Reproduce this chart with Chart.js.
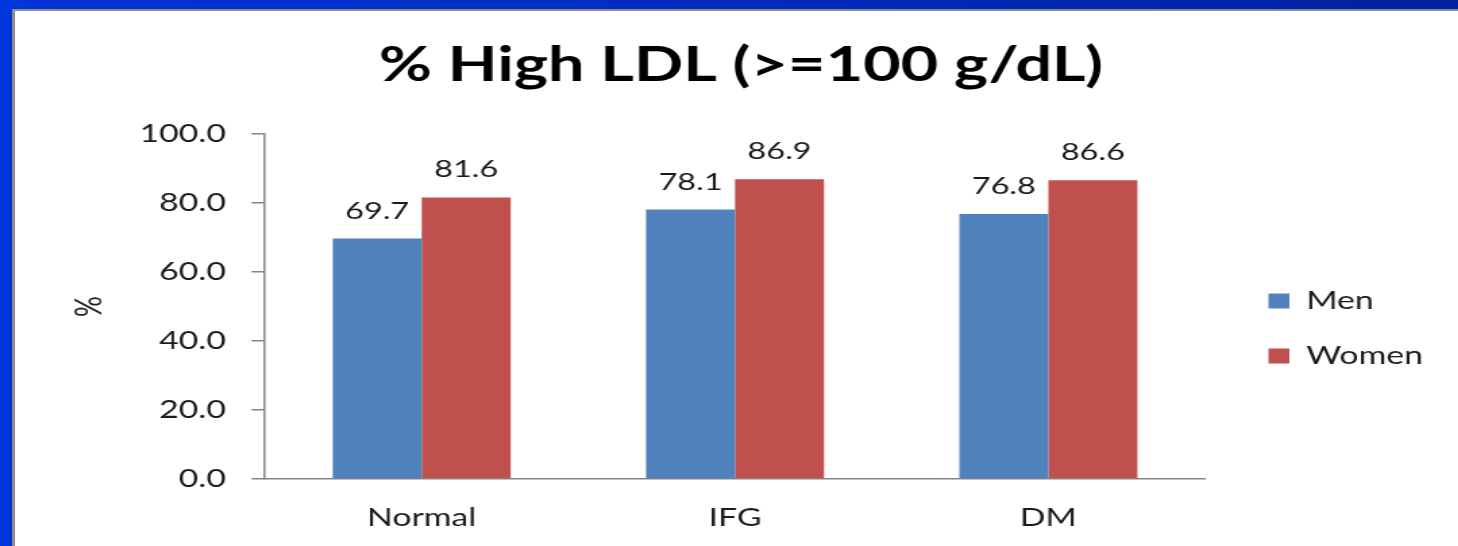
<!DOCTYPE html>
<html>
<head>
<meta charset="utf-8">
<script src="https://cdn.jsdelivr.net/npm/chart.js@4"></script>
<style>
  html { margin: 0; padding: 0; background: #fff; overflow: hidden; }
  body {
    margin: 0; padding: 0;
    width: 100%; min-width: 1458px; height: 546px; overflow: hidden; position: relative;
    background: linear-gradient(90deg, #0035da, #0021a2);
  }
  #panel {
    position: absolute; left: 12px; top: 9px; right: -20px; bottom: -20px;
    background: #fff;
    border-left: 3px solid #8c8c8c;
    border-top: 2px solid #8c8c8c;
  }
  /* the source slide is stretched sideways, so the chart is too */
  #wrap {
    position: absolute; left: 0; top: 0;
    width: 1069px; height: 535px;
    transform: scaleX(1.35); transform-origin: 0 0;
  }
</style>
</head>
<body>
<div id="panel"><div id="wrap"><canvas id="chart"></canvas></div></div>
<script>
  var CATEGORIES = ['Normal', 'IFG', 'DM'];
  var MEN = [69.7, 78.1, 76.8];
  var WOMEN = [81.6, 86.9, 86.6];
  var Y_TICKS = [0, 20, 40, 60, 80, 100];

  var FONT = 'Lato, "Open Sans", sans-serif';
  var TEXT = '#1a1a1a';
  var AXIS = '#868686';

  // canvas-space layout targets (before the 1.35 horizontal stretch)
  var PLOT_LEFT = 185.2;
  var PLOT_RIGHT = 881.5;
  var PAD_LEFT = 6.6;
  var LEGEND_SHIFT_X = 17;
  var LEGEND_SHIFT_Y = 50;

  // value labels above each bar
  var barValueLabels = {
    id: 'barValueLabels',
    afterDatasetsDraw: function (chart) {
      var ctx = chart.ctx;
      ctx.save();
      ctx.font = '24px ' + FONT;
      ctx.fillStyle = TEXT;
      ctx.textAlign = 'center';
      ctx.textBaseline = 'alphabetic';
      chart.data.datasets.forEach(function (ds, i) {
        chart.getDatasetMeta(i).data.forEach(function (bar, j) {
          ctx.fillText(ds.data[j].toFixed(1), bar.x, bar.y - 20);
        });
      });
      ctx.restore();
    }
  };

  // Excel leaves a gap between the plot and the legend; Chart.js doesn't,
  // so widen the legend box and push its contents right/down after layout.
  var legendGap = {
    id: 'legendGap',
    beforeLayout: function (chart) {
      var lg = chart.legend;
      if (lg && !lg._gapWrapped) {
        var fit = lg.fit;
        lg.fit = function () {
          fit.call(this);
          this.width = chart.width - PLOT_RIGHT;
        };
        lg._gapWrapped = true;
      }
    },
    afterLayout: function (chart) {
      var lg = chart.legend;
      lg.left += LEGEND_SHIFT_X;
      lg.top += LEGEND_SHIFT_Y;
      lg.bottom += LEGEND_SHIFT_Y;
    }
  };

  new Chart(document.getElementById('chart'), {
    type: 'bar',
    data: {
      labels: CATEGORIES,
      datasets: [
        { label: 'Men', data: MEN, backgroundColor: '#4f81bd', borderWidth: 0 },
        { label: 'Women', data: WOMEN, backgroundColor: '#c0504d', borderWidth: 0 }
      ]
    },
    options: {
      responsive: true,
      maintainAspectRatio: false,
      animation: false,
      categoryPercentage: 0.568,
      barPercentage: 1,
      layout: { padding: { left: PAD_LEFT, right: 0, top: 0, bottom: 0 } },
      plugins: {
        title: {
          display: true,
          text: '% High LDL (>=100 g/dL)',
          color: '#000',
          font: { family: FONT, size: 48, weight: 'bold', lineHeight: 1.2 },
          padding: { top: 26.2, bottom: 39.2 }
        },
        legend: {
          position: 'right',
          align: 'center',
          labels: {
            boxWidth: 15.5,
            boxHeight: 15,
            padding: 30,
            color: TEXT,
            font: { family: FONT, size: 25 }
          }
        },
        tooltip: { enabled: false }
      },
      scales: {
        x: {
          grid: { display: false, drawTicks: false },
          border: { display: true, color: AXIS, width: 1.5 },
          ticks: { color: TEXT, font: { family: FONT, size: 25 }, padding: 24 },
          afterFit: function (scale) { scale.height = 67; }
        },
        y: {
          min: 0,
          max: 100,
          afterBuildTicks: function (scale) {
            scale.ticks = Y_TICKS.map(function (v) { return { value: v }; });
          },
          grid: { drawOnChartArea: false, drawTicks: true, tickLength: 10, color: AXIS, lineWidth: 1.5 },
          border: { display: true, color: AXIS, width: 1.5 },
          ticks: {
            color: TEXT,
            font: { family: FONT, size: 25 },
            padding: 19,
            callback: function (v) { return Number(v).toFixed(1); }
          },
          title: {
            display: true,
            text: '%',
            color: TEXT,
            font: { family: FONT, size: 26 },
            padding: { top: 33.5, bottom: 0 }
          },
          afterFit: function (scale) { scale.width = PLOT_LEFT - PAD_LEFT; }
        }
      }
    },
    plugins: [barValueLabels, legendGap]
  });
</script>
</body>
</html>
